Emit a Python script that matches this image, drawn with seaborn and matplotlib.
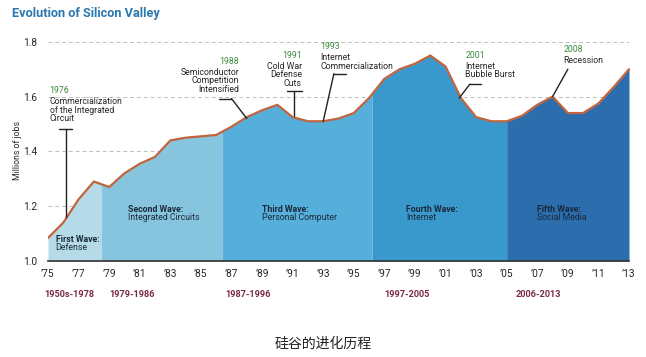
import numpy as np
import pandas as pd
import matplotlib.pyplot as plt
import seaborn as sns

# ================= Data ================= #
years = [1975, 1976, 1977, 1978, 1979, 1980, 1981, 1982, 1983, 1984, 1985, 1986,
         1987, 1988, 1989, 1990, 1991, 1992, 1993, 1994, 1995, 1996, 1997, 1998,
         1999, 2000, 2001, 2002, 2003, 2004, 2005, 2006, 2007, 2008, 2009, 2010,
         2011, 2012, 2013]
jobs = [1.084, 1.14, 1.225, 1.29, 1.27, 1.32, 1.355, 1.38, 1.44, 1.45, 1.455, 1.46,
        1.49, 1.525, 1.55, 1.57, 1.525, 1.51, 1.51, 1.52, 1.54, 1.595, 1.665, 1.70,
        1.72, 1.75, 1.71, 1.595, 1.525, 1.51, 1.51, 1.53, 1.57, 1.60, 1.54, 1.54,
        1.575, 1.635, 1.70]

wave_edges = [1975, 1978.5, 1986.4, 1996.2, 2005.0, 2013]
wave_colors = ["#b5dbe8", "#87c5df", "#56aeda", "#3999cc", "#2b6dad"]
wave_titles = ["First Wave:", "Second Wave:", "Third Wave:", "Fourth Wave:", "Fifth Wave:"]
wave_names = ["Defense", "Integrated Circuits", "Personal Computer", "Internet", "Social Media"]
periods = ["1950s-1978", "1979-1986", "1987-1996", "1997-2005", "2006-2013"]
period_x = [1976.4, 1980.5, 1988.1, 1998.5, 2007.1]

tick_years = list(range(1975, 2014, 2))
tick_labels = ["\u2019%02d" % (y % 100) for y in tick_years]

df = pd.DataFrame({"year": years, "jobs": jobs})

# ================= Plot ================= #
sns.set_style("white")
plt.rcParams['font.family'] = ['Roboto', 'DejaVu Sans']

fig = plt.figure(figsize=(6.46, 3.57), dpi=100)
ax = fig.add_axes([48 / 646, 1 - 261 / 357, (635 - 48) / 646, (261 - 30) / 357])

# dashed grid lines
for gy in [1.2, 1.4, 1.6, 1.8]:
    ax.plot([1975, 2013], [gy, gy], ls=(0, (4, 3)), color="#bdbdbd", lw=0.7, zorder=0)

# wave areas
for i in range(5):
    a, b = wave_edges[i], wave_edges[i + 1]
    xs = [a] + [y for y in years if a < y < b] + [b]
    ys = np.interp(xs, years, jobs)
    ax.fill_between(xs, 1.0, ys, color=wave_colors[i], lw=0, zorder=1)

sns.lineplot(data=df, x="year", y="jobs", ax=ax, color="#c0643e", lw=1.6, zorder=3)

fs = 6.3
ax.set_xlim(1975, 2013 + 6 / 15.29)
ax.set_ylim(1.0, 1.0 + (261 - 30) / 274)
ax.set_yticks([1.0, 1.2, 1.4, 1.6, 1.8])
ax.set_yticklabels(["1.0", "1.2", "1.4", "1.6", "1.8"], fontsize=7.3)
ax.set_xticks(tick_years)
ax.set_xticklabels(tick_labels, fontsize=7.3)
ax.tick_params(length=0, pad=6)
ax.tick_params(axis="y", pad=8)
for s in ["top", "right", "left"]:
    ax.spines[s].set_visible(False)
ax.spines["bottom"].set_color("#333333")
ax.spines["bottom"].set_linewidth(1.2)
ax.spines["bottom"].set_bounds(1975, 2013)
ax.set_xlabel("")
ax.set_ylabel("Millions of jobs", fontsize=6.3)
ax.yaxis.set_label_coords(-0.045, 0.48)

# wave labels
wave_lab_pos = [(1975.5, 1.07), (1980.2, 1.18), (1989.0, 1.18), (1998.4, 1.18), (2007.0, 1.18)]
for (wx, wy), t, n in zip(wave_lab_pos, wave_titles, wave_names):
    ax.text(wx, wy, t, fontsize=fs, fontweight="bold", color="#1a2a3a", zorder=4)
    ax.text(wx, wy - 0.03, n, fontsize=fs, color="#1a2a3a", zorder=4)

# period labels
for px, p in zip(period_x, periods):
    ax.text(px, 0.868, p, fontsize=6.6, fontweight="bold", color="#7a2a45",
            ha="center", clip_on=False)

# annotations
green = "#3f8a3f"
lk = dict(color="#222222", lw=1.0, zorder=4, clip_on=False)
# 1976
ax.plot([1975.7, 1976.6], [1.482, 1.482], **lk)
ax.plot([1976.15, 1976.15], [1.482, 1.16], **lk)
ax.text(1975.1, 1.612, "1976", fontsize=fs, color=green)
ax.text(1975.1, 1.598, "Commercialization\nof the Integrated\nCircuit",
        fontsize=fs, va="top", linespacing=0.95)
# 1988
ax.plot([1986.2, 1987.0], [1.593, 1.593], **lk)
ax.plot([1987.0, 1988.0], [1.593, 1.52], **lk)
ax.text(1987.5, 1.72, "1988", fontsize=fs, color=green, ha="right")
ax.text(1987.5, 1.706, "Semiconductor\nCompetition\nIntensified",
        fontsize=fs, va="top", ha="right", linespacing=0.95)
# 1991
ax.plot([1990.6, 1991.6], [1.62, 1.62], **lk)
ax.plot([1991.1, 1991.1], [1.62, 1.53], **lk)
ax.text(1991.6, 1.742, "1991", fontsize=fs, color=green, ha="right")
ax.text(1991.6, 1.728, "Cold War\nDefense\nCuts",
        fontsize=fs, va="top", ha="right", linespacing=0.95)
# 1993
ax.plot([1993.7, 1994.5], [1.684, 1.684], **lk)
ax.plot([1993.7, 1993.0], [1.684, 1.51], **lk)
ax.text(1992.8, 1.772, "1993", fontsize=fs, color=green)
ax.text(1992.8, 1.758, "Internet\nCommercialization",
        fontsize=fs, va="top", linespacing=0.95)
# 2001
ax.plot([2002.6, 2003.3], [1.646, 1.646], **lk)
ax.plot([2002.6, 2001.9], [1.646, 1.595], **lk)
ax.text(2002.3, 1.742, "2001", fontsize=fs, color=green)
ax.text(2002.3, 1.728, "Internet\nBubble Burst",
        fontsize=fs, va="top", linespacing=0.95)
# 2008
ax.plot([2009.0, 2008.0], [1.70, 1.60], **lk)
ax.text(2008.7, 1.762, "2008", fontsize=fs, color=green)
ax.text(2008.7, 1.748, "Recession", fontsize=fs, va="top")

# titles
fig.text(12 / 646, 1 - 14 / 357, "Evolution of Silicon Valley", fontsize=9.2,
         fontweight="bold", color="#2a78b0", va="center")
fig.text(0.5, 1 - 344 / 357, "硅谷的进化历程", fontsize=10, color="#222222",
         ha="center", va="center", family=["Noto Sans CJK SC", "DejaVu Sans"])

fig.savefig("out.png", dpi=100)
